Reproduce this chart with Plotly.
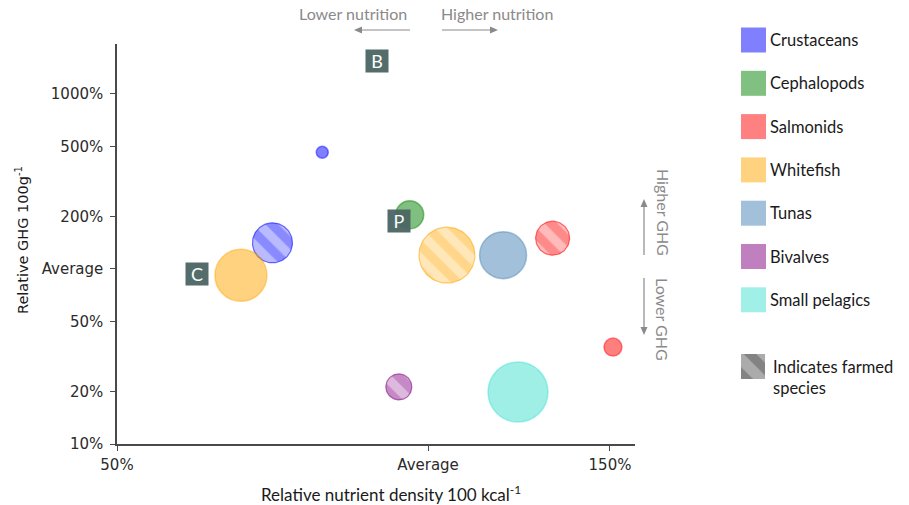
import numpy as np
import plotly.graph_objects as go

# ---- data -------------------------------------------------------------
GROUPS = ["Crustaceans", "Cephalopods", "Salmonids", "Whitefish",
          "Tunas", "Bivalves", "Small pelagics"]

# species bubbles: group, relative nutrient density, relative GHG, farmed?
SPECIES_GROUP = ["Crustaceans", "Crustaceans", "Cephalopods", "Salmonids",
                 "Salmonids", "Whitefish", "Whitefish", "Tunas",
                 "Bivalves", "Small pelagics"]
NUTRIENT_DENSITY = [0.79, 0.707, 0.96, 1.32, 1.51, 0.659, 1.043, 1.182, 0.937, 1.222]
RELATIVE_GHG = [4.65, 1.41, 2.04, 1.50, 0.358, 0.92, 1.20, 1.20, 0.212, 0.198]
FARMED = [False, True, False, True, False, False, True, False, True, False]

X_TICKVALS = [0.5, 1.0, 1.5]
X_TICKTEXT = ["50%", "Average", "150%"]
Y_TICKVALS = [0.1, 0.2, 0.5, 1.0, 2.0, 5.0, 10.0]
Y_TICKTEXT = ["10%", "20%", "50%", "Average", "200%", "500%", "1000%"]

CALLOUT_TEXT = ["B", "P", "C"]
CALLOUT_X = [0.892, 0.938, 0.597]
CALLOUT_Y = [15.4, 1.89, 0.94]

AVERAGE = 1.0

# ---- styling ----------------------------------------------------------
GROUP_RGB = {
    "Crustaceans": (0, 0, 255),
    "Cephalopods": (0, 128, 0),
    "Salmonids": (255, 0, 0),
    "Whitefish": (255, 165, 0),
    "Tunas": (70, 130, 180),
    "Bivalves": (128, 0, 128),
    "Small pelagics": (64, 224, 208),
}
BUBBLE_DIAM = [12, 40, 28, 34, 18, 52, 56, 47, 26, 60]

W, H = 909, 505
PLOT_LEFT, PLOT_RIGHT, PLOT_TOP, PLOT_BOTTOM = 117, 635, 44, 444
X_RANGE = [np.log10(0.5), np.log10(1.586)]
Y_RANGE = [-1.0, np.log10(19.3)]

AXIS_COLOR = "#4a4a4a"
TICK_FONT = dict(family="DejaVu Sans", size=15, color="#2b2b2b")
NOTE_FONT = dict(family="Lato", size=16, color="#8a8a8a")
NOTE_COLOR = "#8a8a8a"
CALLOUT_BG = "#4b6664"


def rgba(rgb, a):
    return "rgba(%d,%d,%d,%.3f)" % (rgb[0], rgb[1], rgb[2], a)


def blend(rgb, a):
    # colour at alpha a over a white background
    return "rgb(%d,%d,%d)" % tuple(round(255 - a * (255 - c)) for c in rgb)


def px(xp, yp):
    return xp / W, 1 - yp / H


# pixels per decade on each log axis, from the layout above
ppd_x = (PLOT_RIGHT - PLOT_LEFT) / (X_RANGE[1] - X_RANGE[0])
ppd_y = (PLOT_BOTTOM - PLOT_TOP) / (Y_RANGE[1] - Y_RANGE[0])

fig = go.Figure()

# ---- bubbles ----------------------------------------------------------
theta = np.linspace(0, 2 * np.pi, 97)
for g, xv, yv, farmed, d in zip(SPECIES_GROUP, NUTRIENT_DENSITY, RELATIVE_GHG,
                                FARMED, BUBBLE_DIAM):
    rgb = GROUP_RGB[g]
    if farmed:
        r = d / 2
        cx = 10 ** (np.log10(xv) + r * np.cos(theta) / ppd_x)
        cy = 10 ** (np.log10(yv) + r * np.sin(theta) / ppd_y)
        fig.add_trace(go.Scatter(
            x=cx, y=cy, mode="lines", fill="toself",
            fillcolor=rgba(rgb, 0.28),
            line=dict(color=rgba(rgb, 0.55), width=1.2),
            fillpattern=dict(shape="\\", fgcolor=rgba(rgb, 0.52),
                             bgcolor=rgba(rgb, 0.27), size=18, solidity=0.5),
            hoverinfo="skip", showlegend=False))
    else:
        fig.add_trace(go.Scatter(
            x=[xv], y=[yv], mode="markers",
            marker=dict(size=d, color=rgba(rgb, 0.5),
                        line=dict(color=rgba(rgb, 0.45), width=1.5)),
            hoverinfo="skip", showlegend=False))

# ---- legend icon for farmed species (pixel-space overlay axes) ---------
sq = [741, 765, 354, 379]
fig.add_trace(go.Scatter(
    x=[sq[0], sq[1], sq[1], sq[0], sq[0]],
    y=[sq[2], sq[2], sq[3], sq[3], sq[2]],
    xaxis="x2", yaxis="y2", mode="lines", fill="toself",
    fillcolor="#ababab", line=dict(width=0, color="#ababab"),
    fillpattern=dict(shape="\\", fgcolor="#5c5c5c", bgcolor="#ababab",
                     size=20, solidity=0.45),
    hoverinfo="skip", showlegend=False))

shapes = []
# average reference lines
shapes.append(dict(type="line", xref="x", yref="y domain",
                   x0=np.log10(AVERAGE), x1=np.log10(AVERAGE), y0=0, y1=1,
                   line=dict(color="#d4d4d4", width=2), layer="below"))
shapes.append(dict(type="line", xref="x domain", yref="y",
                   x0=0, x1=1, y0=np.log10(AVERAGE), y1=np.log10(AVERAGE),
                   line=dict(color="#d4d4d4", width=2), layer="below"))


def arrow(tail, head, head_len=8, head_w=3.5):
    """Thin line with a small filled triangular head, in figure pixels."""
    (tx, ty), (hx, hy) = tail, head
    L = np.hypot(hx - tx, hy - ty)
    ux, uy = (hx - tx) / L, (hy - ty) / L
    bx, by = hx - ux * head_len, hy - uy * head_len
    a = px(tx, ty)
    b = px(bx, by)
    shapes.append(dict(type="line", xref="paper", yref="paper",
                       x0=a[0], y0=a[1], x1=b[0], y1=b[1],
                       line=dict(color=NOTE_COLOR, width=1.2)))
    p1 = px(bx - uy * head_w, by + ux * head_w)
    p2 = px(bx + uy * head_w, by - ux * head_w)
    p3 = px(hx, hy)
    path = "M %f %f L %f %f L %f %f Z" % (p1[0], p1[1], p2[0], p2[1], p3[0], p3[1])
    shapes.append(dict(type="path", xref="paper", yref="paper", path=path,
                       fillcolor=NOTE_COLOR, line=dict(width=0)))


arrow((410, 30), (354, 30))
arrow((442, 30), (498, 30))
arrow((644, 255), (644, 199))
arrow((644, 278), (644, 335))

annotations = []
# group legend
for i, g in enumerate(GROUPS):
    yc = 40 + i * 43.3
    x0, y0 = px(741, yc - 12.5)
    x1, y1 = px(766, yc + 12.5)
    shapes.append(dict(type="rect", xref="paper", yref="paper",
                       x0=x0, x1=x1, y0=y1, y1=y0,
                       fillcolor=blend(GROUP_RGB[g], 0.5),
                       line=dict(width=0)))
    tx, ty = px(768, yc)
    annotations.append(dict(x=tx, y=ty, xref="paper", yref="paper",
                            text=g, showarrow=False, xanchor="left",
                            yanchor="middle",
                            font=dict(family="Lato", size=16.5, color="#1a1a1a")))
tx, ty = px(771, 377)
annotations.append(dict(x=tx, y=ty, xref="paper", yref="paper",
                        text="Indicates farmed<br>species", showarrow=False,
                        xanchor="left", yanchor="middle", align="left",
                        font=dict(family="Lato", size=16.5, color="#1a1a1a")))

# axis titles
tx, ty = px(22, 240)
annotations.append(dict(x=tx, y=ty, xref="paper", yref="paper",
                        xanchor="center", yanchor="middle",
                        text="Relative GHG 100g<sup>-1</sup>", textangle=-90,
                        showarrow=False,
                        font=dict(family="DejaVu Sans", size=14.5, color="#1a1a1a")))
tx, ty = px(391, 493)
annotations.append(dict(x=tx, y=ty, xref="paper", yref="paper",
                        xanchor="center", yanchor="middle",
                        text="Relative nutrient density 100 kcal<sup>-1</sup>",
                        showarrow=False,
                        font=dict(family="Lato", size=17, color="#1a1a1a")))

# direction notes
for text, xp, yp, ang in [("Lower nutrition", 352.5, 13, 0),
                          ("Higher nutrition", 497, 13, 0),
                          ("Higher GHG", 663, 212, 90),
                          ("Lower GHG", 663, 319, 90)]:
    tx, ty = px(xp, yp)
    annotations.append(dict(x=tx, y=ty, xref="paper", yref="paper", text=text,
                            xanchor="center", yanchor="middle",
                            textangle=ang, showarrow=False, font=NOTE_FONT))

# callout boxes
for t, xv, yv in zip(CALLOUT_TEXT, CALLOUT_X, CALLOUT_Y):
    annotations.append(dict(x=np.log10(xv), y=np.log10(yv), xref="x", yref="y",
                            xanchor="center", yanchor="middle",
                            text=t, showarrow=False, width=20, height=20,
                            bgcolor=CALLOUT_BG, opacity=0.95, borderpad=1,
                            font=dict(family="Lato", size=18, color="white")))

axis_common = dict(type="log", showgrid=False, zeroline=False, showline=True,
                   linecolor=AXIS_COLOR, linewidth=1.5, ticks="outside",
                   ticklen=5, tickwidth=1.2, tickcolor=AXIS_COLOR,
                   tickfont=TICK_FONT, automargin=False, fixedrange=True)

fig.update_layout(
    width=W, height=H,
    margin=dict(l=0, r=0, t=0, b=0),
    paper_bgcolor="white", plot_bgcolor="rgba(0,0,0,0)",
    showlegend=False,
    xaxis=dict(domain=[PLOT_LEFT / W, PLOT_RIGHT / W], range=X_RANGE,
               tickvals=X_TICKVALS, ticktext=X_TICKTEXT, anchor="y",
               ticklabelstandoff=1, **axis_common),
    yaxis=dict(domain=[1 - PLOT_BOTTOM / H, 1 - PLOT_TOP / H], range=Y_RANGE,
               tickvals=Y_TICKVALS, ticktext=Y_TICKTEXT, anchor="x",
               ticklabelstandoff=4, **axis_common),
    xaxis2=dict(domain=[0, 1], range=[0, W], visible=False, anchor="y2",
                fixedrange=True),
    yaxis2=dict(domain=[0, 1], range=[H, 0], visible=False, anchor="x2",
                fixedrange=True),
    shapes=shapes,
    annotations=annotations,
)

fig.write_html("out.html")
